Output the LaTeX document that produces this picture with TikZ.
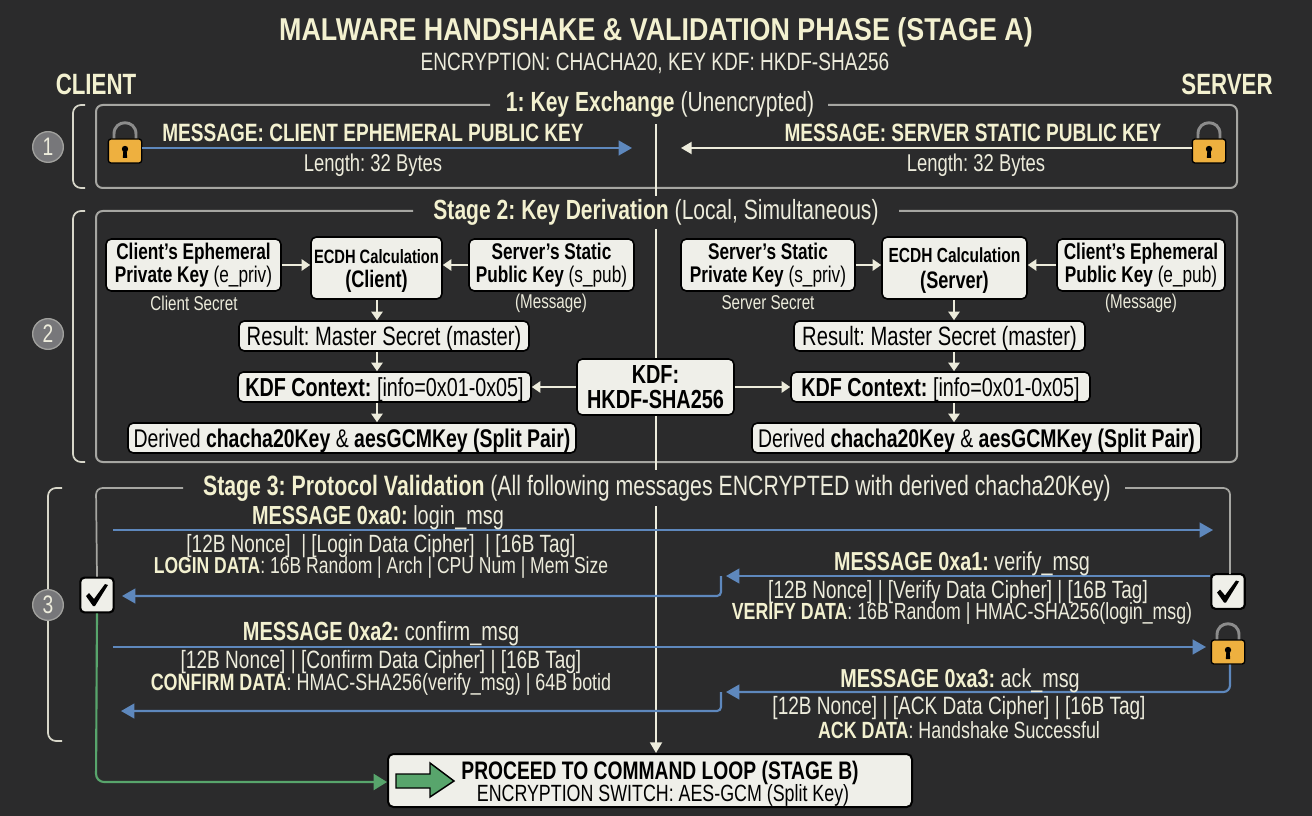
\documentclass[tikz,border=0pt]{standalone}
\usepackage{fontspec}
\setmainfont[FakeStretch=0.76]{Liberation Sans}
\newfontfamily\titlefont[FakeStretch=0.85]{Liberation Sans}
\usetikzlibrary{arrows.meta,shapes.geometric,calc}
\definecolor{bgc}{HTML}{2B2B2C}
\definecolor{cream}{HTML}{F3F1D0}
\definecolor{soft}{HTML}{EDECDC}
\definecolor{framec}{HTML}{A6A6A2}
\definecolor{bluec}{HTML}{5E88BD}
\definecolor{greenc}{HTML}{58A56C}
\definecolor{boxc}{HTML}{EFEFE9}
\definecolor{lockc}{HTML}{EEB03F}
\definecolor{circc}{HTML}{77777A}
\definecolor{shackc}{HTML}{8C8C8C}
\newcommand{\fsz}[1]{\fontsize{#1}{\dimexpr#1pt*6/5\relax}\selectfont}
\tikzset{
  fs/.style={font=\fsz{#1}},
  bfs/.style={font=\bfseries\fsz{#1}},
  txt/.style={text=soft,inner sep=0pt,align=center,fs=#1},
  txt/.default=14.5,
  frameline/.style={draw=framec,line width=1.5pt,rounded corners=5pt},
  brk/.style={draw=soft!80!gray,line width=1.3pt,rounded corners=6pt},
  blueline/.style={draw=bluec,line width=1.6pt},
  bluearrow/.style={blueline,-{Triangle[length=10pt,width=11pt,fill=bluec]}},
  whiteline/.style={draw=soft,line width=1.4pt},
  whitearrow/.style={whiteline,-{Triangle[length=8pt,width=9pt,fill=soft]}},
  smallarrow/.style={draw=soft,line width=1.5pt,-{Triangle[length=6.5pt,width=8.5pt,fill=soft]}},
  greenarrow/.style={draw=greenc,line width=1.6pt,rounded corners=6pt,-{Triangle[length=10pt,width=12pt,fill=greenc]}},
  wbox/.style={draw=black,fill=boxc,line width=1.2pt,rounded corners=4pt,text=black,align=center,inner sep=0pt},
  circ/.style={circle,draw=framec!85!gray,fill=circc,line width=1pt,minimum size=23pt,inner sep=0pt,text=soft,fs=19},
  lockbody/.style={draw=black,fill=lockc,line width=1pt,rounded corners=2pt,minimum width=25pt,minimum height=18pt,inner sep=0pt},
  checkb/.style={draw=black,fill=boxc,line width=1.6pt,rounded corners=3pt,minimum width=25pt,minimum height=26pt,inner sep=0pt},
  bx/.style n args={2}{wbox,minimum width=#1*0.75pt,minimum height=#2*0.75pt},
  oneline/.style={text height=14pt,text depth=0pt},
}
% lock icon: #1 node name, #2 x, #3 y of body centre
\newcommand{\lockicon}[3]{%
  \draw[draw=shackc,line width=2.2pt] (#2-11,#3-12) -- (#2-11,#3-17) .. controls (#2-11,#3-32) and (#2+11,#3-32) .. (#2+11,#3-17) -- (#2+11,#3-12);
  \node[lockbody] (#1) at (#2,#3) {};
  \fill[black] (#2,#3-2) circle (2.4pt);
  \fill[black] (#2-1.6,#3-1) -- (#2+1.6,#3-1) -- (#2+2.2,#3+7) -- (#2-2.2,#3+7) -- cycle;
}
\newcommand{\checkicon}[3]{%
  \node[checkb] (#1) at (#2,#3) {};
  \fill[black] (#2-11,#3+1) -- (#2-8,#3-2) -- (#2-3,#3+4) -- (#2+8,#3-11) -- (#2+11,#3-10) -- (#2-2,#3+11) -- (#2-4,#3+11) -- cycle;
}
\begin{document}
\frenchspacing
\begin{tikzpicture}[x=0.75pt,y=-0.75pt]
\useasboundingbox[fill=bgc] (0,0) rectangle (1312,816);

% titles
\node[text=cream,font=\titlefont\bfseries\fsz{23.7},inner sep=0pt] (title) at (656,32) {MALWARE HANDSHAKE \& VALIDATION PHASE (STAGE A)};
\node[txt=18.8] (subtitle) at (655,63) {ENCRYPTION: CHACHA20, KEY KDF: HKDF-SHA256};
\node[text=cream,inner sep=0pt,bfs=22] (clientl) at (96,84) {CLIENT};
\node[text=cream,inner sep=0pt,bfs=22] (serverl) at (1227,84) {SERVER};

% section titles
\node[txt=20.8] (t1) at (660,104) {\textcolor{cream}{\bfseries 1: Key Exchange} (Unencrypted)};
\node[txt=20.8] (t2) at (656,212) {\textcolor{cream}{\bfseries Stage 2: Key Derivation} (Local, Simultaneous)};
\node[txt=21] (t3) at (657,488) {\textcolor{cream}{\bfseries Stage 3: Protocol Validation} (All following messages ENCRYPTED with derived chacha20Key)};

% frame anchors
\coordinate (f1a) at (490,105); \coordinate (f1b) at (828,105);
\coordinate (f2a) at (413,211); \coordinate (f2b) at (899,211);
\coordinate (f3a) at (183,488); \coordinate (f3b) at (1125,488);
\draw[frameline] (f1a) -- (96,105) -- (96,188) -- (1237,188) -- (1237,105) -- (f1b);
\draw[frameline] (f2a) -- (96,211) -- (96,462) -- (1237,462) -- (1237,211) -- (f2b);

% side brackets
\draw[brk] (85,105) -- (73,105) -- (73,188) -- (85,188);
\draw[brk] (85,211) -- (73,211) -- (73,462) -- (85,462);
\draw[brk] (62,488) -- (48,488) -- (48,741) -- (62,741);
\node[circ] (c1) at (48,147) {1};
\node[circ] (c2) at (48,334) {2};
\node[circ] (c3) at (48,605) {3};

% centre line
\coordinate (m1a) at (656,124); \coordinate (m1b) at (656,196);
\coordinate (m2a) at (656,229); \coordinate (m3b) at (656,470);
\coordinate (m4a) at (656,506);
\draw[whiteline] (m1a) -- (m1b);

% stage 1
\lockicon{lockA}{125}{151}
\lockicon{lockB}{1209}{151}
\coordinate (a1e) at (632,148);
\coordinate (a2e) at (681,148);
\draw[bluearrow] (lockA.east |- a1e) -- (a1e);
\draw[whitearrow] (lockB.west |- a2e) -- (a2e);
\node[text=cream,inner sep=0pt,bfs=18.8] (m1) at (373,133) {MESSAGE: CLIENT EPHEMERAL PUBLIC KEY};
\node[txt=18.2] (m1l) at (373,165) {Length: 32 Bytes};
\node[text=cream,inner sep=0pt,bfs=18.8] (m2) at (973,133) {MESSAGE: SERVER STATIC PUBLIC KEY};
\node[txt=18.2] (m2l) at (976,165) {Length: 32 Bytes};

% stage 2 left
\node[bx={175}{52},fs=17] (ce) at (193.5,265) {{\bfseries Client's Ephemeral}\\[-3.5pt]{\bfseries Private Key} (e\_priv)};
\node[bx={131}{62},fs=14.5] (ecl) at (376.5,268) {\rule{0pt}{15pt}{\bfseries ECDH Calculation}\\[1pt]{\fsz{17.9}\bfseries (Client)}};
\node[bx={165}{52},fs=17] (ss) at (551.5,265) {{\bfseries Server's Static}\\[-3.5pt]{\bfseries Public Key} (s\_pub)};
\node[txt=15] (csec) at (194,303) {Client Secret};
\node[txt=15] (cmsg) at (551,303) {(Message)};
\node[bx={290}{30},fs=19.9,oneline] (rl) at (384,336) {Result: Master Secret (master)};
\node[bx={293}{30},fs=19.5,oneline] (kl) at (384.5,387) {{\bfseries KDF Context:} [info=0x01-0x05]};
\node[bx={448}{30},fs=19.2,oneline] (dl) at (352,438) {Derived {\bfseries chacha20Key} \& {\bfseries aesGCMKey (Split Pair)}};
\coordinate (ax1) at (377,0);
\draw[smallarrow] (ce.east) -- (ecl.west |- ce.east);
\draw[smallarrow] (ss.west) -- (ecl.east |- ss.west);
\draw[smallarrow] (ecl.south -| ax1) -- (rl.north -| ax1);
\draw[smallarrow] (rl.south -| ax1) -- (kl.north -| ax1);
\draw[smallarrow] (kl.south -| ax1) -- (dl.north -| ax1);

% stage 2 right
\node[bx={174}{52},fs=17] (se) at (768,265) {{\bfseries Server's Static}\\[-3.5pt]{\bfseries Private Key} (s\_priv)};
\node[bx={145}{62},fs=15.3] (ecr) at (954.5,268) {\rule{0pt}{15pt}{\bfseries ECDH Calculation}\\[1pt]{\fsz{17.9}\bfseries (Server)}};
\node[bx={168}{52},fs=17] (cp) at (1141,265) {{\bfseries Client's Ephemeral}\\[-3.5pt]{\bfseries Public Key} (e\_pub)};
\node[txt=15] (ssec) at (768,303) {Server Secret};
\node[txt=15] (smsg) at (1141,303) {(Message)};
\node[bx={291}{30},fs=19.9,oneline] (rr) at (939.5,336) {Result: Master Secret (master)};
\node[bx={299}{30},fs=19.5,oneline] (kr) at (940.5,387) {{\bfseries KDF Context:} [info=0x01-0x05]};
\node[bx={449}{30},fs=19.2,oneline] (dr) at (976.5,438) {Derived {\bfseries chacha20Key} \& {\bfseries aesGCMKey (Split Pair)}};
\coordinate (ax2) at (954,0);
\draw[smallarrow] (se.east) -- (ecr.west |- se.east);
\draw[smallarrow] (cp.west) -- (ecr.east |- cp.west);
\draw[smallarrow] (ecr.south -| ax2) -- (rr.north -| ax2);
\draw[smallarrow] (rr.south -| ax2) -- (kr.north -| ax2);
\draw[smallarrow] (kr.south -| ax2) -- (dr.north -| ax2);

% KDF
\node[bx={157}{56},fs=19.6] (kdf) at (655.5,387) {{\bfseries KDF:}\\[-5pt]{\bfseries HKDF-SHA256}};
\draw[whiteline] (m2a) -- (kdf.north -| m2a);
\draw[whiteline] (kdf.south -| m2a) -- (m3b);
\draw[smallarrow] (kdf.west) -- (kl.east);
\draw[smallarrow] (kdf.east) -- (kr.west);

% final box
\node[bx={524}{53},line width=1.5pt] (fin) at (650,780.5) {};
\node[inner sep=0pt,text=black,bfs=19] (fin1) at (660,773) {PROCEED TO COMMAND LOOP (STAGE B)};
\node[inner sep=0pt,text=black,fs=17.6] (fin2) at (663,795) {ENCRYPTION SWITCH: AES-GCM (Split Key)};
\draw[fill=greenc,draw=black,line width=1.1pt] (396,774) -- (430,774) -- (430,763) -- (454,781) -- (430,797) -- (430,788) -- (396,788) -- cycle;
\draw[whitearrow] (m4a) -- (fin.north -| m4a);

% stage 3 icons
\checkicon{chkL}{97}{595}
\checkicon{chkR}{1228}{591.5}
\lockicon{lockC}{1228}{652}
\coordinate (f3c) at (1230,574);
\draw[draw=framec,line width=1.3pt,rounded corners=5pt] (f3a) -- (96,488) -- (chkL.north);
\draw[draw=framec,line width=1.3pt,rounded corners=5pt] (f3b) -- (1230,488) -- (f3c);

% messages
\coordinate (s0) at (113,530); \coordinate (e0) at (1213,530);
\draw[bluearrow] (s0) -- (e0);
\node[txt=19.6] (h0) at (378,518) {\textcolor{cream}{\bfseries MESSAGE 0xa0:} login\_msg};
\node[txt=18.7] (l0a) at (381,546) {[12B Nonce]\ \ | [Login Data Cipher]\ \ | [16B Tag]};
\node[txt=17.3] (l0b) at (381,568) {\textcolor{cream}{\bfseries LOGIN DATA}: 16B Random | Arch | CPU Num | Mem Size};

\coordinate (e1) at (726,576);
\draw[bluearrow] (chkR.west |- e1) -- (e1);
\coordinate (s1b) at (721,576); \coordinate (e1b) at (122,596);
\draw[bluearrow,rounded corners=3pt] (s1b) -- (s1b |- e1b) -- (e1b);
\node[txt=19.5] (h1) at (962,564) {\textcolor{cream}{\bfseries MESSAGE 0xa1:} verify\_msg};
\node[txt=18.7] (l1a) at (958,592) {[12B Nonce] | [Verify Data Cipher] | [16B Tag]};
\node[txt=17.5] (l1b) at (962,614) {\textcolor{cream}{\bfseries VERIFY DATA}: 16B Random | HMAC-SHA256(login\_msg)};

\coordinate (s2) at (113,647); \coordinate (e2) at (1206,647);
\draw[bluearrow] (s2) -- (e2);
\node[txt=19.7] (h2) at (381,634) {\textcolor{cream}{\bfseries MESSAGE 0xa2:} confirm\_msg};
\node[txt=18.8] (l2a) at (381,662) {[12B Nonce] | [Confirm Data Cipher] | [16B Tag]};
\node[txt=17.7] (l2b) at (381,684) {\textcolor{cream}{\bfseries CONFIRM DATA}: HMAC-SHA256(verify\_msg) | 64B botid};

\coordinate (e3) at (726,692);
\draw[bluearrow,rounded corners=5pt] (lockC.south -| f3c) -- (f3c |- e3) -- (e3);
\coordinate (s3b) at (721,692); \coordinate (e3b) at (121,711);
\draw[bluearrow,rounded corners=3pt] (s3b) -- (s3b |- e3b) -- (e3b);
\node[txt=19.5] (h3) at (960,681) {\textcolor{cream}{\bfseries MESSAGE 0xa3:} ack\_msg};
\node[txt=18.8] (l3a) at (959,708) {[12B Nonce] | [ACK Data Cipher] | [16B Tag]};
\node[txt=17.6] (l3b) at (959,730) {\textcolor{cream}{\bfseries ACK DATA}: Handshake Successful};

% green
\coordinate (g1) at (96,782);
\draw[greenarrow] (chkL.south) -- (g1) -- (fin.west |- g1);
\end{tikzpicture}
\end{document}
